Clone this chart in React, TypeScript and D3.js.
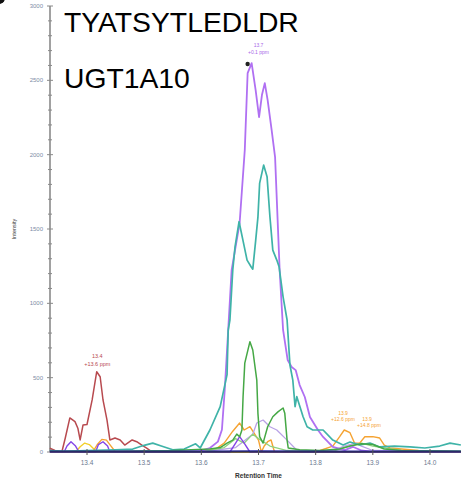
import React from "react";
import * as d3 from "d3";

const W = 461;
const H = 484;

const yTicks = [0, 500, 1000, 1500, 2000, 2500, 3000];
const xTicks = [13.4, 13.5, 13.6, 13.7, 13.8, 13.9, 14.0];

const purpleT = [13.335, 13.598, 13.615, 13.629, 13.636, 13.641, 13.647, 13.653, 13.667, 13.676, 13.681, 13.688, 13.695, 13.701, 13.706, 13.711, 13.716, 13.723, 13.729, 13.737, 13.743, 13.751, 13.758, 13.765, 13.772, 13.781, 13.79, 13.804, 13.813, 13.83, 13.851, 13.865, 13.88, 13.9, 14.054];
const purpleV = [0, 7, 27, 70, 150, 420, 820, 1224, 1540, 2031, 2549, 2616, 2434, 2253, 2401, 2481, 2367, 2165, 1984, 1224, 821, 619, 572, 551, 450, 370, 235, 148, 101, 34, 13, 35, 10, 0, 0];

const tealT = [13.335, 13.36, 13.4, 13.45, 13.48, 13.5, 13.515, 13.53, 13.55, 13.57, 13.59, 13.598, 13.615, 13.633, 13.645, 13.647, 13.65, 13.655, 13.659, 13.666, 13.673, 13.68, 13.687, 13.69, 13.695, 13.699, 13.702, 13.709, 13.715, 13.72, 13.725, 13.732, 13.736, 13.743, 13.75, 13.755, 13.76, 13.764, 13.767, 13.778, 13.785, 13.795, 13.813, 13.83, 13.848, 13.86, 13.877, 13.895, 13.912, 13.938, 13.965, 13.991, 14.017, 14.035, 14.054];
const tealV = [10, 5, 10, 15, 20, 45, 60, 40, 15, 20, 55, 27, 148, 305, 520, 820, 888, 1224, 1381, 1549, 1420, 1291, 1246, 1230, 1420, 1580, 1809, 1930, 1851, 1582, 1358, 1291, 1246, 1044, 888, 585, 484, 305, 372, 237, 170, 148, 148, 80, 47, 67, 47, 60, 34, 40, 34, 27, 40, 60, 47];

const greenT = [13.335, 13.45, 13.55, 13.615, 13.633, 13.645, 13.655, 13.662, 13.667, 13.671, 13.673, 13.676, 13.685, 13.69, 13.697, 13.699, 13.702, 13.708, 13.716, 13.725, 13.734, 13.743, 13.746, 13.75, 13.752, 13.772, 13.807, 13.842, 13.86, 13.88, 13.9, 13.92, 13.95, 14.054];
const greenV = [5, 5, 10, 20, 30, 60, 80, 120, 103, 148, 372, 598, 742, 686, 484, 260, 103, 60, 170, 237, 270, 296, 260, 80, 27, 15, 10, 20, 40, 55, 50, 20, 10, 5];

const lightGreenT = [13.335, 13.6, 13.64, 13.66, 13.675, 13.69, 13.7, 13.72, 13.75, 13.83, 13.85, 13.88, 13.9, 13.95, 14.054];
const lightGreenV = [0, 0, 30, 90, 60, 120, 90, 40, 10, 5, 30, 60, 40, 10, 5];

const redT = [13.335, 13.344, 13.356, 13.362, 13.37, 13.379, 13.384, 13.388, 13.393, 13.4, 13.409, 13.417, 13.423, 13.428, 13.435, 13.44, 13.449, 13.458, 13.466, 13.479, 13.487, 13.496, 13.505, 13.514, 14.054];
const redV = [25, 10, 0, 94, 229, 204, 160, 81, 181, 185, 350, 540, 506, 350, 215, 81, 94, 81, 47, 81, 69, 47, 25, 0, 0];

const yellowT = [13.335, 13.38, 13.388, 13.396, 13.404, 13.412, 13.418, 14.054];
const yellowV = [0, 0, 35, 60, 50, 20, 0, 0];

const orangeT = [13.335, 13.41, 13.418, 13.426, 13.434, 13.442, 13.45, 13.6, 13.625, 13.64, 13.655, 13.667, 13.675, 13.685, 13.692, 13.7, 13.705, 13.71, 13.716, 13.722, 13.728, 13.8, 13.83, 13.842, 13.85, 13.86, 13.868, 13.877, 13.886, 13.9, 13.912, 13.92, 13.93, 13.95, 13.98, 14.054];
const orangeV = [0, 0, 50, 85, 80, 40, 0, 0, 20, 60, 140, 195, 148, 170, 128, 80, 0, 40, 69, 81, 0, 0, 40, 103, 148, 130, 60, 60, 103, 103, 94, 47, 27, 20, 10, 0];

const violetT = [13.335, 13.36, 13.365, 13.372, 13.38, 13.386, 13.415, 13.42, 13.428, 13.436, 13.44, 13.65, 13.66, 13.667, 13.675, 13.685, 14.054];
const violetV = [0, 0, 40, 69, 40, 0, 0, 50, 69, 40, 0, 0, 60, 103, 60, 0, 0];

const lavenderT = [13.335, 13.6, 13.66, 13.69, 13.697, 13.708, 13.72, 13.732, 13.75, 13.765, 13.78, 13.83, 13.85, 13.87, 13.88, 13.9, 14.054];
const lavenderV = [0, 0, 30, 120, 195, 215, 170, 148, 80, 20, 0, 10, 40, 60, 40, 10, 0];

const navyT = [13.335, 13.5, 13.6, 13.7, 13.8, 13.9, 14.054];
const navyV = [3, 3, 4, 5, 4, 3, 3];

const series = [
  { t: redT, v: redV, color: "#b84a4f", w: 1.5 },
  { t: yellowT, v: yellowV, color: "#f2cf2a", w: 1.4 },
  { t: orangeT, v: orangeV, color: "#f5a332", w: 1.4 },
  { t: lavenderT, v: lavenderV, color: "#b9a2e6", w: 1.3 },
  { t: lightGreenT, v: lightGreenV, color: "#8fd27e", w: 1.3 },
  { t: violetT, v: violetV, color: "#8446e6", w: 1.4 },
  { t: purpleT, v: purpleV, color: "#b070f2", w: 1.8 },
  { t: tealT, v: tealV, color: "#3fb3a8", w: 1.7 },
  { t: greenT, v: greenV, color: "#45a845", w: 1.5 },
  { t: navyT, v: navyV, color: "#23239a", w: 2 },
];

export default function App() {
  const x = d3.scaleLinear().domain([13.4, 14.0]).range([87, 430]);
  const y = d3.scaleLinear().domain([0, 3000]).range([452, 6]);
  const line = d3
    .line<[number, number]>()
    .x((d) => x(d[0]))
    .y((d) => y(d[1]));
  const minor = d3.range(0, 3001, 100);
  return (
    <svg
      width={W}
      height={H}
      style={{ position: "absolute", left: 0, top: 0, background: "#fff" }}
      fontFamily="Arial, 'Liberation Sans', sans-serif"
    >
      <rect width={W} height={H} fill="#fff" />
      <circle cx={-1} cy={-2} r={6} fill="#111" />
      {/* y axis */}
      <line x1={50} x2={50} y1={y(3000)} y2={y(0)} stroke="#8a8a8a" strokeWidth={1.6} />
      {minor.map((m) => (
        <line
          key={m}
          x1={m % 500 === 0 ? 47 : 48}
          x2={m % 500 === 0 ? 53 : 52}
          y1={y(m)}
          y2={y(m)}
          stroke="#8a8a8a"
          strokeWidth={1}
        />
      ))}
      {yTicks.map((tk) => (
        <text
          key={tk}
          x={43}
          y={y(tk)}
          dy="0.35em"
          textAnchor="end"
          fontSize={6}
          fill="#7d8ca6"
        >
          {tk}
        </text>
      ))}
      <text
        transform={`translate(16,${y(1500)}) rotate(-90)`}
        textAnchor="middle"
        fontSize={5.5}
        fill="#333"
      >
        Intensity
      </text>
      {/* lines */}
      <g fill="none" strokeLinejoin="round">
        {series.map((s, i) => (
          <path
            key={i}
            d={line(s.t.map((tt, j) => [tt, s.v[j]] as [number, number])) || ""}
            stroke={s.color}
            strokeWidth={s.w}
          />
        ))}
      </g>
      {/* x axis */}
      <line x1={50} x2={W} y1={452} y2={452} stroke="#333" strokeWidth={1} />
      {xTicks.map((tk) => (
        <g key={tk}>
          <line x1={x(tk)} x2={x(tk)} y1={449} y2={455} stroke="#555" strokeWidth={1} />
          <text x={x(tk)} y={463} dy="0.35em" textAnchor="middle" fontSize={6.5} fill="#6b7890">
            {tk.toFixed(1)}
          </text>
        </g>
      ))}
      <text x={x(13.7)} y={476} dy="0.35em" textAnchor="middle" fontSize={6.5} fontWeight="bold" fill="#333">
        Retention Time
      </text>
      {/* annotations */}
      <circle cx={x(13.681)} cy={y(2610)} r={2.2} fill="#222" />
      <text x={x(13.7)} y={47} textAnchor="middle" fontSize={5} fill="#a86ae8">13.7</text>
      <text x={x(13.7)} y={54} textAnchor="middle" fontSize={5} fill="#a86ae8">+0.1 ppm</text>
      <text x={x(13.418)} y={358} textAnchor="middle" fontSize={5.5} fill="#b84a4f">13.4</text>
      <text x={x(13.418)} y={366} textAnchor="middle" fontSize={5.5} fill="#b84a4f">+13.6 ppm</text>
      <text x={343} y={415} textAnchor="middle" fontSize={5} fill="#f5a332">13.9</text>
      <text x={343} y={421} textAnchor="middle" fontSize={5} fill="#f5a332">+12.6 ppm</text>
      <text x={367} y={421} textAnchor="middle" fontSize={5} fill="#f5a332">13.9</text>
      <text x={369} y={427} textAnchor="middle" fontSize={5} fill="#f5a332">+14.8 ppm</text>
      {/* titles */}
      <text x={64} y={32} fontSize={28.3} fill="#000" fontFamily="Arial, 'Liberation Sans', sans-serif">
        TYATSYTLEDLDR
      </text>
      <text x={64} y={88} fontSize={28.3} fill="#000" fontFamily="Arial, 'Liberation Sans', sans-serif">
        UGT1A10
      </text>
    </svg>
  );
}
